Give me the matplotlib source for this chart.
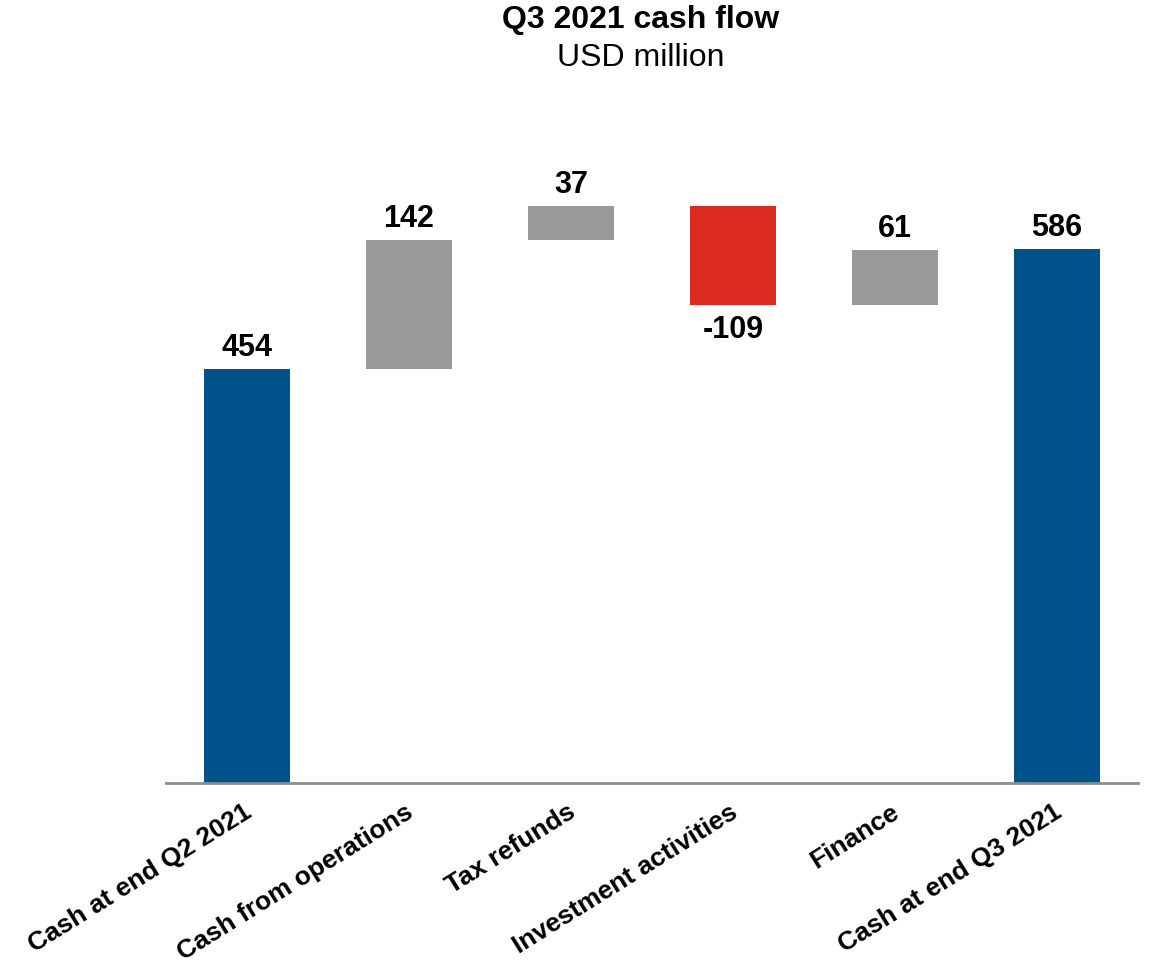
import matplotlib
matplotlib.use("Agg")
import matplotlib.pyplot as plt
import matplotlib.transforms as mtransforms

plt.rcParams['font.family'] = ['Liberation Sans', 'DejaVu Sans']

categories = ["Cash at end Q2 2021", "Cash from operations", "Tax refunds",
              "Investment activities", "Finance", "Cash at end Q3 2021"]
changes = [454, 142, 37, -109, 61, 586]
kinds = ["total", "delta", "delta", "delta", "delta", "total"]

BLUE = "#00538a"
GREY = "#999999"
RED = "#dc2a1f"

W, H = 1150, 962
base_px = 783.5        # axis line position from the top
scale = 0.9106         # pixels per USD million
top_px = 150

fig = plt.figure(figsize=(W / 100, H / 100), dpi=100)
ax = fig.add_axes([166 / W, (H - base_px) / H, (1138 - 166) / W, (base_px - top_px) / H])

running = 0
for i, (val, kind) in enumerate(zip(changes, kinds)):
    if kind == "total":
        bottom, height, color = 0, val, BLUE
        running = val
    else:
        if val >= 0:
            bottom, height, color = running, val, GREY
        else:
            bottom, height, color = running + val, -val, RED
        running += val
    ax.bar(i, height, bottom=bottom, width=0.537, color=color, zorder=2)
    if val >= 0:
        ax.annotate(f"{val}", (i, bottom + height), xytext=(0, 5),
                    textcoords="offset points", ha="center", va="bottom",
                    fontsize=22, fontweight="bold")
    else:
        ax.annotate(f"{val}", (i, bottom), xytext=(0, -6),
                    textcoords="offset points", ha="center", va="top",
                    fontsize=22, fontweight="bold")

ax.set_xlim(-0.5, 5.5)
ax.set_ylim(0, (base_px - top_px) / scale)
ax.set_yticks([])
for s in ["top", "right", "left"]:
    ax.spines[s].set_visible(False)
ax.spines["bottom"].set_color("#8c8c8c")
ax.spines["bottom"].set_linewidth(2.0)
ax.spines["bottom"].set_zorder(3)

ax.set_xticks(range(len(categories)))
ax.set_xticklabels(categories, rotation=32, ha="right", va="top",
                   rotation_mode="anchor", fontsize=19, fontweight="bold")
ax.tick_params(axis="x", length=0, pad=12)
shift = mtransforms.ScaledTranslation(-4 / 100, 0, fig.dpi_scale_trans)
for lbl in ax.get_xticklabels():
    lbl.set_transform(lbl.get_transform() + shift)

cx = 641 / W
fig.text(cx, 1 - 20 / H, "Q3 2021 cash flow", ha="center", va="center",
         fontsize=23, fontweight="bold")
fig.text(cx, 1 - 58 / H, "USD million", ha="center", va="center",
         fontsize=23)

fig.savefig("out.png", dpi=100)
